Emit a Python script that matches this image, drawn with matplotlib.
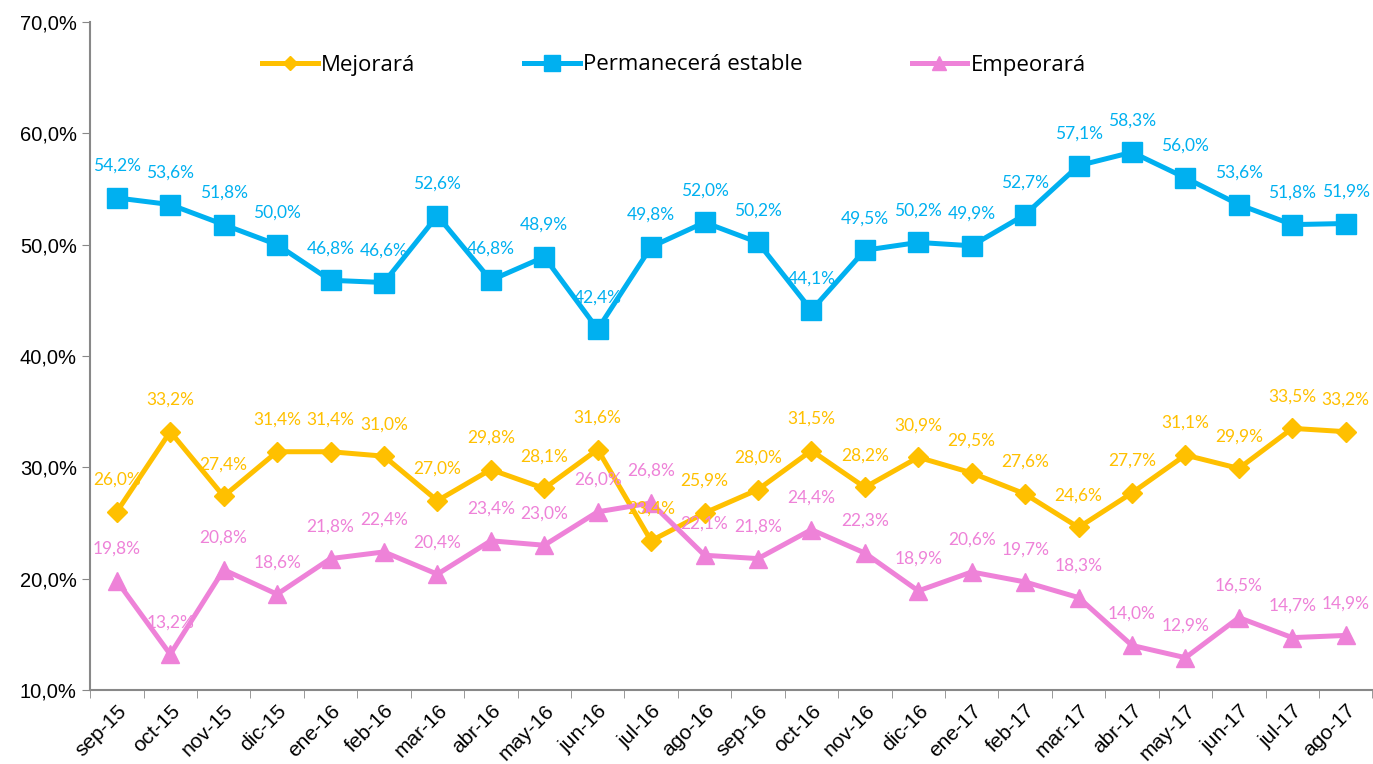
import matplotlib.pyplot as plt
import numpy as np
from matplotlib.ticker import FuncFormatter, FixedLocator

meses = ["sep-15", "oct-15", "nov-15", "dic-15", "ene-16", "feb-16", "mar-16", "abr-16",
         "may-16", "jun-16", "jul-16", "ago-16", "sep-16", "oct-16", "nov-16", "dic-16",
         "ene-17", "feb-17", "mar-17", "abr-17", "may-17", "jun-17", "jul-17", "ago-17"]

mejorara = [26.0, 33.2, 27.4, 31.4, 31.4, 31.0, 27.0, 29.8, 28.1, 31.6, 23.4, 25.9,
            28.0, 31.5, 28.2, 30.9, 29.5, 27.6, 24.6, 27.7, 31.1, 29.9, 33.5, 33.2]
estable = [54.2, 53.6, 51.8, 50.0, 46.8, 46.6, 52.6, 46.8, 48.9, 42.4, 49.8, 52.0,
           50.2, 44.1, 49.5, 50.2, 49.9, 52.7, 57.1, 58.3, 56.0, 53.6, 51.8, 51.9]
empeorara = [19.8, 13.2, 20.8, 18.6, 21.8, 22.4, 20.4, 23.4, 23.0, 26.0, 26.8, 22.1,
             21.8, 24.4, 22.3, 18.9, 20.6, 19.7, 18.3, 14.0, 12.9, 16.5, 14.7, 14.9]

series = [
    ("Mejorará", mejorara, "#FFC000", "D", 10),
    ("Permanecerá estable", estable, "#00B0F0", "s", 14.5),
    ("Empeorará", empeorara, "#EE82D8", "^", 13.5),
]

label_font = "Lato"

fig = plt.figure(figsize=(13.73, 7.64), dpi=100)
ax = fig.add_axes([0.0656, 0.0969, 0.934, 0.8743])

x = np.arange(len(meses))
for name, vals, col, mk, ms in series:
    ax.plot(x, vals, color=col, lw=3.6, marker=mk, markersize=ms, label=name, zorder=3)
    for xi, v in zip(x, vals):
        ax.annotate(f"{v:.1f}%".replace(".", ","), (xi, v), xytext=(0, 23),
                    textcoords="offset points", ha="center", va="center",
                    color=col, fontsize=12.5, family=label_font, zorder=4)

ax.set_xlim(-0.5, len(meses) - 0.5)
ax.set_ylim(10, 70)
ax.set_yticks(np.arange(10, 71, 10))
ax.yaxis.set_major_formatter(FuncFormatter(lambda v, p: f"{v:.1f}%".replace(".", ",")))
ax.set_xticks(x)
ax.set_xticklabels(meses, rotation=45, ha="right", rotation_mode="anchor",
                   family="Liberation Sans", fontsize=15)
ax.xaxis.set_minor_locator(FixedLocator(np.arange(-0.5, len(meses), 1)))
ax.tick_params(axis="x", which="major", length=0, pad=8)
ax.tick_params(axis="x", which="minor", length=6, color="#888888", direction="out")
ax.tick_params(axis="y", length=6, color="#888888", labelsize=14.5)
for lab in ax.get_yticklabels():
    lab.set_family("Liberation Sans")

for s in ["top", "right"]:
    ax.spines[s].set_visible(False)
for s in ["left", "bottom"]:
    ax.spines[s].set_color("#888888")
    ax.spines[s].set_linewidth(1.5)

leg = fig.legend(*ax.get_legend_handles_labels(), loc="center left",
                 bbox_to_anchor=(251 / 1373, 1 - 65 / 764), ncol=3, frameon=False,
                 borderpad=0, handlelength=2.5, columnspacing=4.9, handletextpad=0.15,
                 markerscale=0.75, prop={"family": "Open Sans", "size": 16})

fig.savefig("out.png", dpi=100)
